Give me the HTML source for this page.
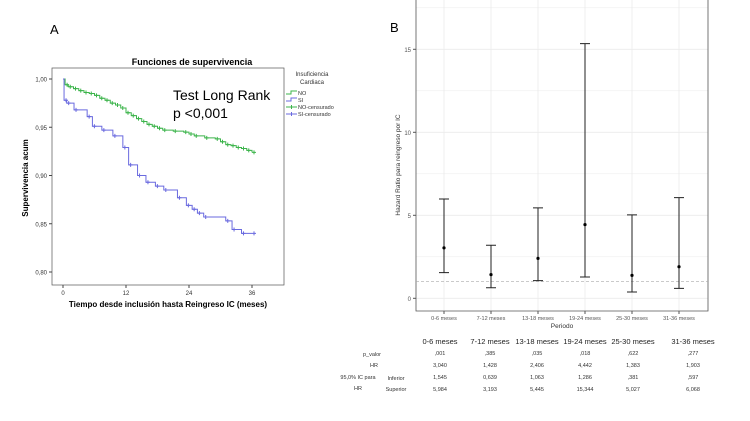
<!DOCTYPE html>
<html><head><meta charset="utf-8"><style>
html,body{margin:0;padding:0;background:#fff;width:750px;height:421px;overflow:hidden}
svg{display:block;font-family:"Liberation Sans",Arial,sans-serif}
</style></head><body>
<svg id="s" width="750" height="421" viewBox="0 0 750 421">
<text x="50" y="34" font-size="13">A</text>
<text x="390" y="32" font-size="13">B</text>
<g id="A"></g>
<g id="B"></g>
<g id="T"></g>
</svg>
<script>
// Panel A data
const noTimes=[0,0.4,1,2,3,4,5,6,7,8,9,10,11,12,13,14,15,16,17,18,19,21,23,24,25,27,29,30,31,32,33,34,35,36];
const noSurv=[1.0,0.994,0.992,0.990,0.988,0.986,0.985,0.983,0.980,0.978,0.975,0.973,0.970,0.965,0.962,0.959,0.956,0.953,0.951,0.949,0.947,0.946,0.945,0.943,0.941,0.939,0.938,0.935,0.932,0.931,0.929,0.928,0.926,0.924];
const siTimes=[0,0.2,0.7,2.1,4.6,5.6,7.4,9.5,11.4,12.5,14.2,15.8,17.6,19.2,21.8,23.5,24.6,25.6,26.8,31.0,32.2,34.0,36];
const siSurv=[1.0,0.978,0.975,0.968,0.961,0.951,0.947,0.941,0.929,0.911,0.900,0.893,0.889,0.885,0.877,0.869,0.865,0.861,0.857,0.853,0.844,0.840,0.840];
const yTicksA=[1.00,0.95,0.90,0.85,0.80];
const yTickLabelsA=["1,00","0,95","0,90","0,85","0,80"];
const xTicksA=[0,12,24,36];
// Panel B data
const periods=["0-6 meses","7-12 meses","13-18 meses","19-24 meses","25-30 meses","31-36 meses"];
const hr=[3.040,1.428,2.406,4.442,1.383,1.903];
const lower=[1.545,0.639,1.063,1.286,0.381,0.597];
const upper=[5.984,3.193,5.445,15.344,5.027,6.068];
const pval=[",001",",385",",035",",018",",622",",277"];
const hrTxt=["3,040","1,428","2,406","4,442","1,383","1,903"];
const lowTxt=["1,545","0,639","1,063","1,286",",381",",597"];
const upTxt=["5,984","3,193","5,445","15,344","5,027","6,068"];
const yTicksB=[0,5,10,15];

const NS="http://www.w3.org/2000/svg";
function mk(p,t,a,txt){const e=document.createElementNS(NS,t);for(const k in a)e.setAttribute(k,a[k]);if(txt!==undefined)e.textContent=txt;p.appendChild(e);return e;}
const A=document.getElementById('A'),B=document.getElementById('B'),T=document.getElementById('T');
// Axis A
const xA=m=>63+m*(189/36), yA=v=>79+(1-v)*(193/0.2);
let e;
e=mk(A,'text',{x:192,y:65,'font-size':9,'font-weight':'bold','text-anchor':'middle'},'Funciones de supervivencia');

mk(A,'rect',{x:52,y:68,width:232,height:217,fill:'none',stroke:'#555','stroke-width':0.7});
mk(A,'rect',{x:52,y:68,width:232,height:217,fill:'none',stroke:'none'});
yTicksA.forEach((v,i)=>{mk(A,'line',{x1:49,x2:52,y1:yA(v),y2:yA(v),stroke:'#444'});
 e=mk(A,'text',{x:47,y:yA(v)+2.5,'font-size':6,'text-anchor':'end',fill:'#333'},yTickLabelsA[i]);
 });
xTicksA.forEach(v=>{mk(A,'line',{x1:xA(v),x2:xA(v),y1:285,y2:288,stroke:'#444'});
 e=mk(A,'text',{x:xA(v),y:295,'font-size':6,'text-anchor':'middle',fill:'#333'},String(v));
 });
e=mk(A,'text',{x:168,y:307,'font-size':8,'font-weight':'bold','text-anchor':'middle'},'Tiempo desde inclusión hasta Reingreso IC (meses)');

e=mk(A,'text',{x:0,y:0,'font-size':8,'font-weight':'bold','text-anchor':'middle',transform:'translate(28,178) rotate(-90)'},'Supervivencia acum');

function km(times,surv,col,name){let d='M'+xA(times[0])+','+yA(surv[0]);
 for(let i=1;i<times.length;i++){d+='H'+xA(times[i])+'V'+yA(surv[i]);}
 e=mk(A,'path',{d:d,fill:'none',stroke:col,'stroke-width':1});
 
 for(let i=1;i<times.length;i++){const x=xA(times[i])+2,y=yA(surv[i]);
  e=mk(A,'path',{d:`M${x-2},${y}H${x+2}M${x},${y-2}V${y+2}`,stroke:col,'stroke-width':1});
  }}
km(noTimes,noSurv,'#3cb44b','no');
km(siTimes,siSurv,'#6a6adf','si');
e=mk(A,'text',{x:173,y:100,'font-size':14},'Test Long Rank');
e=mk(A,'text',{x:173,y:118,'font-size':14},'p <0,001');
mk(A,'text',{x:312,y:76,'font-size':6,'text-anchor':'middle',fill:'#333'},'Insuficiencia');
mk(A,'text',{x:312,y:84,'font-size':6,'text-anchor':'middle',fill:'#333'},'Cardiaca');
[['NO','#3cb44b',0],['SI','#6a6adf',0],['NO-censurado','#3cb44b',1],['SI-censurado','#6a6adf',1]].forEach((l,i)=>{const y=93+i*7;
 if(l[2])mk(A,'path',{d:`M286,${y}H297M291.5,${y-2}V${y+2}`,stroke:l[1]});else mk(A,'path',{d:`M286,${y+1}H291V${y-2}H297`,stroke:l[1],fill:'none'});
 e=mk(A,'text',{x:298,y:y+2,'font-size':5.5,fill:'#333'},l[0]);});
// Panel B
const xB=i=>444+i*47, yB=v=>298.3-v*16.6;
for(let v=0;v<=17.5;v+=2.5)mk(B,'line',{x1:416,x2:708,y1:yB(v),y2:yB(v),stroke:'#ebebeb','stroke-width':v%5===0?0.8:0.5});
periods.forEach((p,i)=>mk(B,'line',{x1:xB(i),x2:xB(i),y1:0,y2:311,stroke:'#ebebeb','stroke-width':0.8}));
mk(B,'path',{d:'M416,0V311H708V0',fill:'none',stroke:'#555','stroke-width':0.8});
mk(B,'line',{x1:416,x2:708,y1:yB(1),y2:yB(1),stroke:'#aaa','stroke-dasharray':'3,2','stroke-width':0.7});
yTicksB.forEach(v=>{mk(B,'line',{x1:413,x2:416,y1:yB(v),y2:yB(v),stroke:'#555'});
 e=mk(B,'text',{x:411,y:yB(v)+2.5,'font-size':6,'text-anchor':'end',fill:'#555'},String(v));});
periods.forEach((p,i)=>{const x=xB(i);
 e=mk(B,'path',{d:`M${x-5},${yB(upper[i])}H${x+5}M${x},${yB(upper[i])}V${yB(lower[i])}M${x-5},${yB(lower[i])}H${x+5}`,stroke:'#222','stroke-width':1,fill:'none'});
 
 e=mk(B,'circle',{cx:x,cy:yB(hr[i]),r:1.6,fill:'#000'});
 mk(B,'line',{x1:x,x2:x,y1:311,y2:314,stroke:'#555'});
 e=mk(B,'text',{x:x,y:320,'font-size':5.5,'text-anchor':'middle',fill:'#555'},p);});
e=mk(B,'text',{x:562,y:328,'font-size':6.5,'text-anchor':'middle',fill:'#333'},'Periodo');
e=mk(B,'text',{x:0,y:0,'font-size':6.5,'text-anchor':'middle',fill:'#333',transform:'translate(400,165) rotate(-90)'},'Hazard Ratio para reingreso por IC');
// Table
const cx=[440,490,537,585,633,693];
periods.forEach((p,i)=>{mk(T,'text',{x:cx[i],y:344,'font-size':7.5,'text-anchor':'middle',fill:'#222'},p);
 [[pval,355],[hrTxt,367],[lowTxt,379],[upTxt,391]].forEach(r=>mk(T,'text',{x:cx[i],y:r[1],'font-size':5.5,'text-anchor':'middle',fill:'#333'},r[0][i]));});
mk(T,'text',{x:372,y:356,'font-size':5.5,'text-anchor':'middle',fill:'#333'},'p_valor');
mk(T,'text',{x:374,y:367,'font-size':5.5,'text-anchor':'middle',fill:'#333'},'HR');
mk(T,'text',{x:358,y:379,'font-size':5.5,'text-anchor':'middle',fill:'#333'},'95,0% IC para');
mk(T,'text',{x:358,y:390,'font-size':5.5,'text-anchor':'middle',fill:'#333'},'HR');
mk(T,'text',{x:396,y:380,'font-size':5.5,'text-anchor':'middle',fill:'#333'},'Inferior');
mk(T,'text',{x:396,y:391,'font-size':5.5,'text-anchor':'middle',fill:'#333'},'Superior');
</script>
</body></html>
